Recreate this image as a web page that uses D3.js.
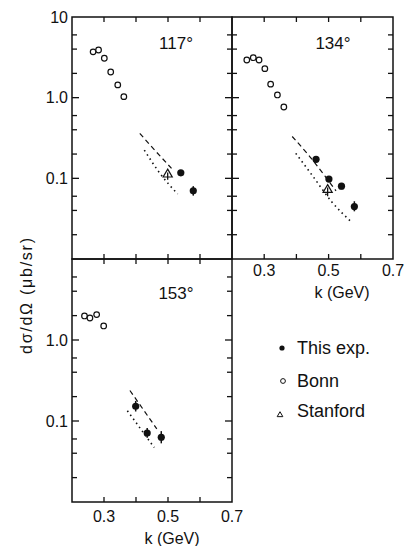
<!DOCTYPE html>
<html>
<head>
<meta charset="utf-8">
<script src="https://cdn.jsdelivr.net/npm/d3@7"></script>
<style>
  html, body { margin: 0; padding: 0; background: #fff; }
  svg { display: block; }
  text { font-family: "Liberation Sans", Arial, sans-serif; fill: #111; }
</style>
</head>
<body>
<svg id="chart" width="405" height="546"></svg>
<script>
// ---------------- data ----------------
const angleLabels = ["117°", "134°", "153°"];
const kTicks = [0.3, 0.4, 0.5, 0.6, 0.7];
const kTickLabels = ["0.3", "0.5", "0.7"];
const yMajorTicks = [0.01, 0.1, 1, 10];
const yMinorTicks = [0.02, 0.04, 0.06, 0.2, 0.4, 0.6, 2, 4, 6];
const yTickLabels = ["0.1", "1.0", "10"];
const legendLabels = ["This exp.", "Bonn", "Stanford"];

// 117 deg
const bonn117 = [[0.266, 3.7], [0.283, 3.9], [0.301, 3.08], [0.321, 2.08], [0.343, 1.44], [0.362, 1.03]];
const exp117 = [[0.540, 0.117, 0.107, 0.127], [0.579, 0.070, 0.061, 0.080]];
const stan117 = [[0.499, 0.112, 0.096, 0.118]];
const dash117 = [[0.412, 0.36], [0.46, 0.22], [0.511, 0.133]];
const dot117 = [[0.426, 0.224], [0.475, 0.115], [0.530, 0.064]];

// 134 deg
const bonn134 = [[0.246, 2.93], [0.266, 3.13], [0.284, 2.93], [0.302, 2.29], [0.320, 1.47], [0.341, 1.08], [0.361, 0.766]];
const exp134 = [[0.461, 0.172, 0.158, 0.187], [0.501, 0.098, 0.090, 0.107], [0.540, 0.080, 0.073, 0.087], [0.580, 0.0446, 0.039, 0.052]];
const stan134 = [[0.497, 0.072, 0.060, 0.077]];
const dash134 = [[0.387, 0.33], [0.442, 0.185], [0.49, 0.105], [0.523, 0.070]];
const dot134 = [[0.398, 0.204], [0.452, 0.105], [0.510, 0.051], [0.570, 0.029]];

// 153 deg
const bonn153 = [[0.239, 1.98], [0.256, 1.87], [0.277, 2.06], [0.299, 1.49]];
const exp153 = [[0.399, 0.152, 0.131, 0.177], [0.435, 0.071, 0.062, 0.082], [0.479, 0.063, 0.053, 0.075]];
const stan153 = [];
const dash153 = [[0.381, 0.238], [0.465, 0.080]];
const dot153 = [[0.373, 0.134], [0.457, 0.047]];

// ---------------- layout ----------------
const svg = d3.select("#chart");
const xL = 72, xM = 232, xR = 393;
const yT = 17, yMid = 259, yB = 502;

const panelDefs = [
  { label: angleLabels[0], x0: xL, x1: xM, y0: yT, y1: yMid, bonn: bonn117, exp: exp117, stan: stan117, dash: dash117, dot: dot117,
    yLabels: true, showTop10: true, xLabels: false, labelPos: [176, 49] },
  { label: angleLabels[1], x0: xM, x1: xR, y0: yT, y1: yMid, bonn: bonn134, exp: exp134, stan: stan134, dash: dash134, dot: dot134,
    yLabels: false, xLabels: true, labelPos: [333, 49], tickOff: 17, titleY: 298, titleX: 342 },
  { label: angleLabels[2], x0: xL, x1: xM, y0: yMid, y1: yB, bonn: bonn153, exp: exp153, stan: stan153, dash: dash153, dot: dot153,
    yLabels: true, showTop10: false, xLabels: true, labelPos: [176, 299], tickOff: 20, titleY: 544, titleX: 172 }
];

const stroke = "#111";

panelDefs.forEach(p => {
  const x = d3.scaleLinear().domain([0.2, 0.7]).range([p.x0, p.x1]);
  const y = d3.scaleLog().domain([0.01, 10]).range([p.y1, p.y0]);
  const g = svg.append("g");

  // frame
  g.append("rect").attr("x", p.x0).attr("y", p.y0).attr("width", p.x1 - p.x0).attr("height", p.y1 - p.y0)
    .attr("fill", "none").attr("stroke", stroke).attr("stroke-width", 1.5);

  // y ticks: left and right, inward
  const yt = yMajorTicks.filter(v => v > 0.01 && v < 10).map(v => ({ v, len: 7 }))
    .concat(yMinorTicks.map(v => ({ v, len: 5 })));
  yt.forEach(t => {
    const yy = y(t.v);
    g.append("line").attr("x1", p.x0).attr("x2", p.x0 + t.len).attr("y1", yy).attr("y2", yy)
      .attr("stroke", stroke).attr("stroke-width", 1.3);
    g.append("line").attr("x1", p.x1).attr("x2", p.x1 - t.len).attr("y1", yy).attr("y2", yy)
      .attr("stroke", stroke).attr("stroke-width", 1.3);
  });
  // x ticks: top and bottom, inward
  kTicks.filter(v => v < 0.7).forEach(v => {
    const xx = x(v);
    g.append("line").attr("x1", xx).attr("x2", xx).attr("y1", p.y1).attr("y2", p.y1 - 5)
      .attr("stroke", stroke).attr("stroke-width", 1.3);
    g.append("line").attr("x1", xx).attr("x2", xx).attr("y1", p.y0).attr("y2", p.y0 + 5)
      .attr("stroke", stroke).attr("stroke-width", 1.3);
  });

  // y labels
  if (p.yLabels) {
    const vals = p.showTop10 ? [0.1, 1, 10] : [0.1, 1];
    vals.forEach(v => {
      const i = yMajorTicks.indexOf(v) - 1;
      g.append("text").attr("x", p.x0 - 4).attr("y", y(v)).attr("dy", "0.36em")
        .attr("text-anchor", "end").style("font-size", "16px").text(yTickLabels[i]);
    });
  }
  // x labels
  if (p.xLabels) {
    [0.3, 0.5, 0.7].forEach((v, i) => {
      g.append("text").attr("x", x(v)).attr("y", p.y1 + p.tickOff)
        .attr("text-anchor", "middle").style("font-size", "16px").text(kTickLabels[i]);
    });
    g.append("text").attr("x", p.titleX).attr("y", p.titleY)
      .attr("text-anchor", "middle").style("font-size", "16px").text("k (GeV)");
  }

  // panel angle label
  g.append("text").attr("x", p.labelPos[0]).attr("y", p.labelPos[1]).attr("text-anchor", "middle")
    .style("font-size", "17px").text(p.label);

  // theory curves
  const line = d3.line().x(d => x(d[0])).y(d => y(d[1])).curve(d3.curveMonotoneX);
  g.append("path").attr("d", line(p.dash)).attr("fill", "none").attr("stroke", stroke)
    .attr("stroke-width", 1.2).attr("stroke-dasharray", "5,3.5");
  g.append("path").attr("d", line(p.dot)).attr("fill", "none").attr("stroke", stroke)
    .attr("stroke-width", 1.6).attr("stroke-dasharray", "1.5,3.5");

  // Bonn
  g.selectAll("circle.bonn").data(p.bonn).join("circle").attr("class", "bonn")
    .attr("cx", d => x(d[0])).attr("cy", d => y(d[1])).attr("r", 2.8)
    .attr("fill", "#fff").attr("stroke", stroke).attr("stroke-width", 1.2);

  // Stanford
  p.stan.forEach(d => {
    const cx = x(d[0]), cy = y(d[1]);
    g.append("line").attr("x1", cx).attr("x2", cx).attr("y1", y(d[3])).attr("y2", y(d[2]))
      .attr("stroke", stroke).attr("stroke-width", 1.3);
    g.append("path").attr("d", d3.symbol(d3.symbolTriangle, 36)()).attr("transform", `translate(${cx},${cy})`)
      .attr("fill", "none").attr("stroke", stroke).attr("stroke-width", 1.2);
  });

  // This exp.
  p.exp.forEach(d => {
    const cx = x(d[0]);
    g.append("line").attr("x1", cx).attr("x2", cx).attr("y1", y(d[3])).attr("y2", y(d[2]))
      .attr("stroke", stroke).attr("stroke-width", 1.5);
    g.append("circle").attr("cx", cx).attr("cy", y(d[1])).attr("r", 3.6).attr("fill", stroke);
  });
});

// y axis title
svg.append("text").attr("transform", "translate(26,296) rotate(-90)").attr("text-anchor", "middle")
  .attr("dy", "0.35em").style("font-size", "16px").attr("textLength", 116).attr("lengthAdjust", "spacing")
  .text("dσ/dΩ (μb/sr)");

// legend
const lg = svg.append("g");
lg.append("circle").attr("cx", 282).attr("cy", 348).attr("r", 2.6).attr("fill", stroke);
lg.append("circle").attr("cx", 283).attr("cy", 381).attr("r", 2.4).attr("fill", "#fff").attr("stroke", stroke).attr("stroke-width", 1);
lg.append("path").attr("d", d3.symbol(d3.symbolTriangle, 14)()).attr("transform", "translate(280,415)")
  .attr("fill", "none").attr("stroke", stroke).attr("stroke-width", 1);
legendLabels.forEach((t, i) => {
  lg.append("text").attr("x", 297).attr("y", [348, 381, 411][i]).attr("dy", "0.36em")
    .style("font-size", "18px").text(t);
});
</script>
</body>
</html>
